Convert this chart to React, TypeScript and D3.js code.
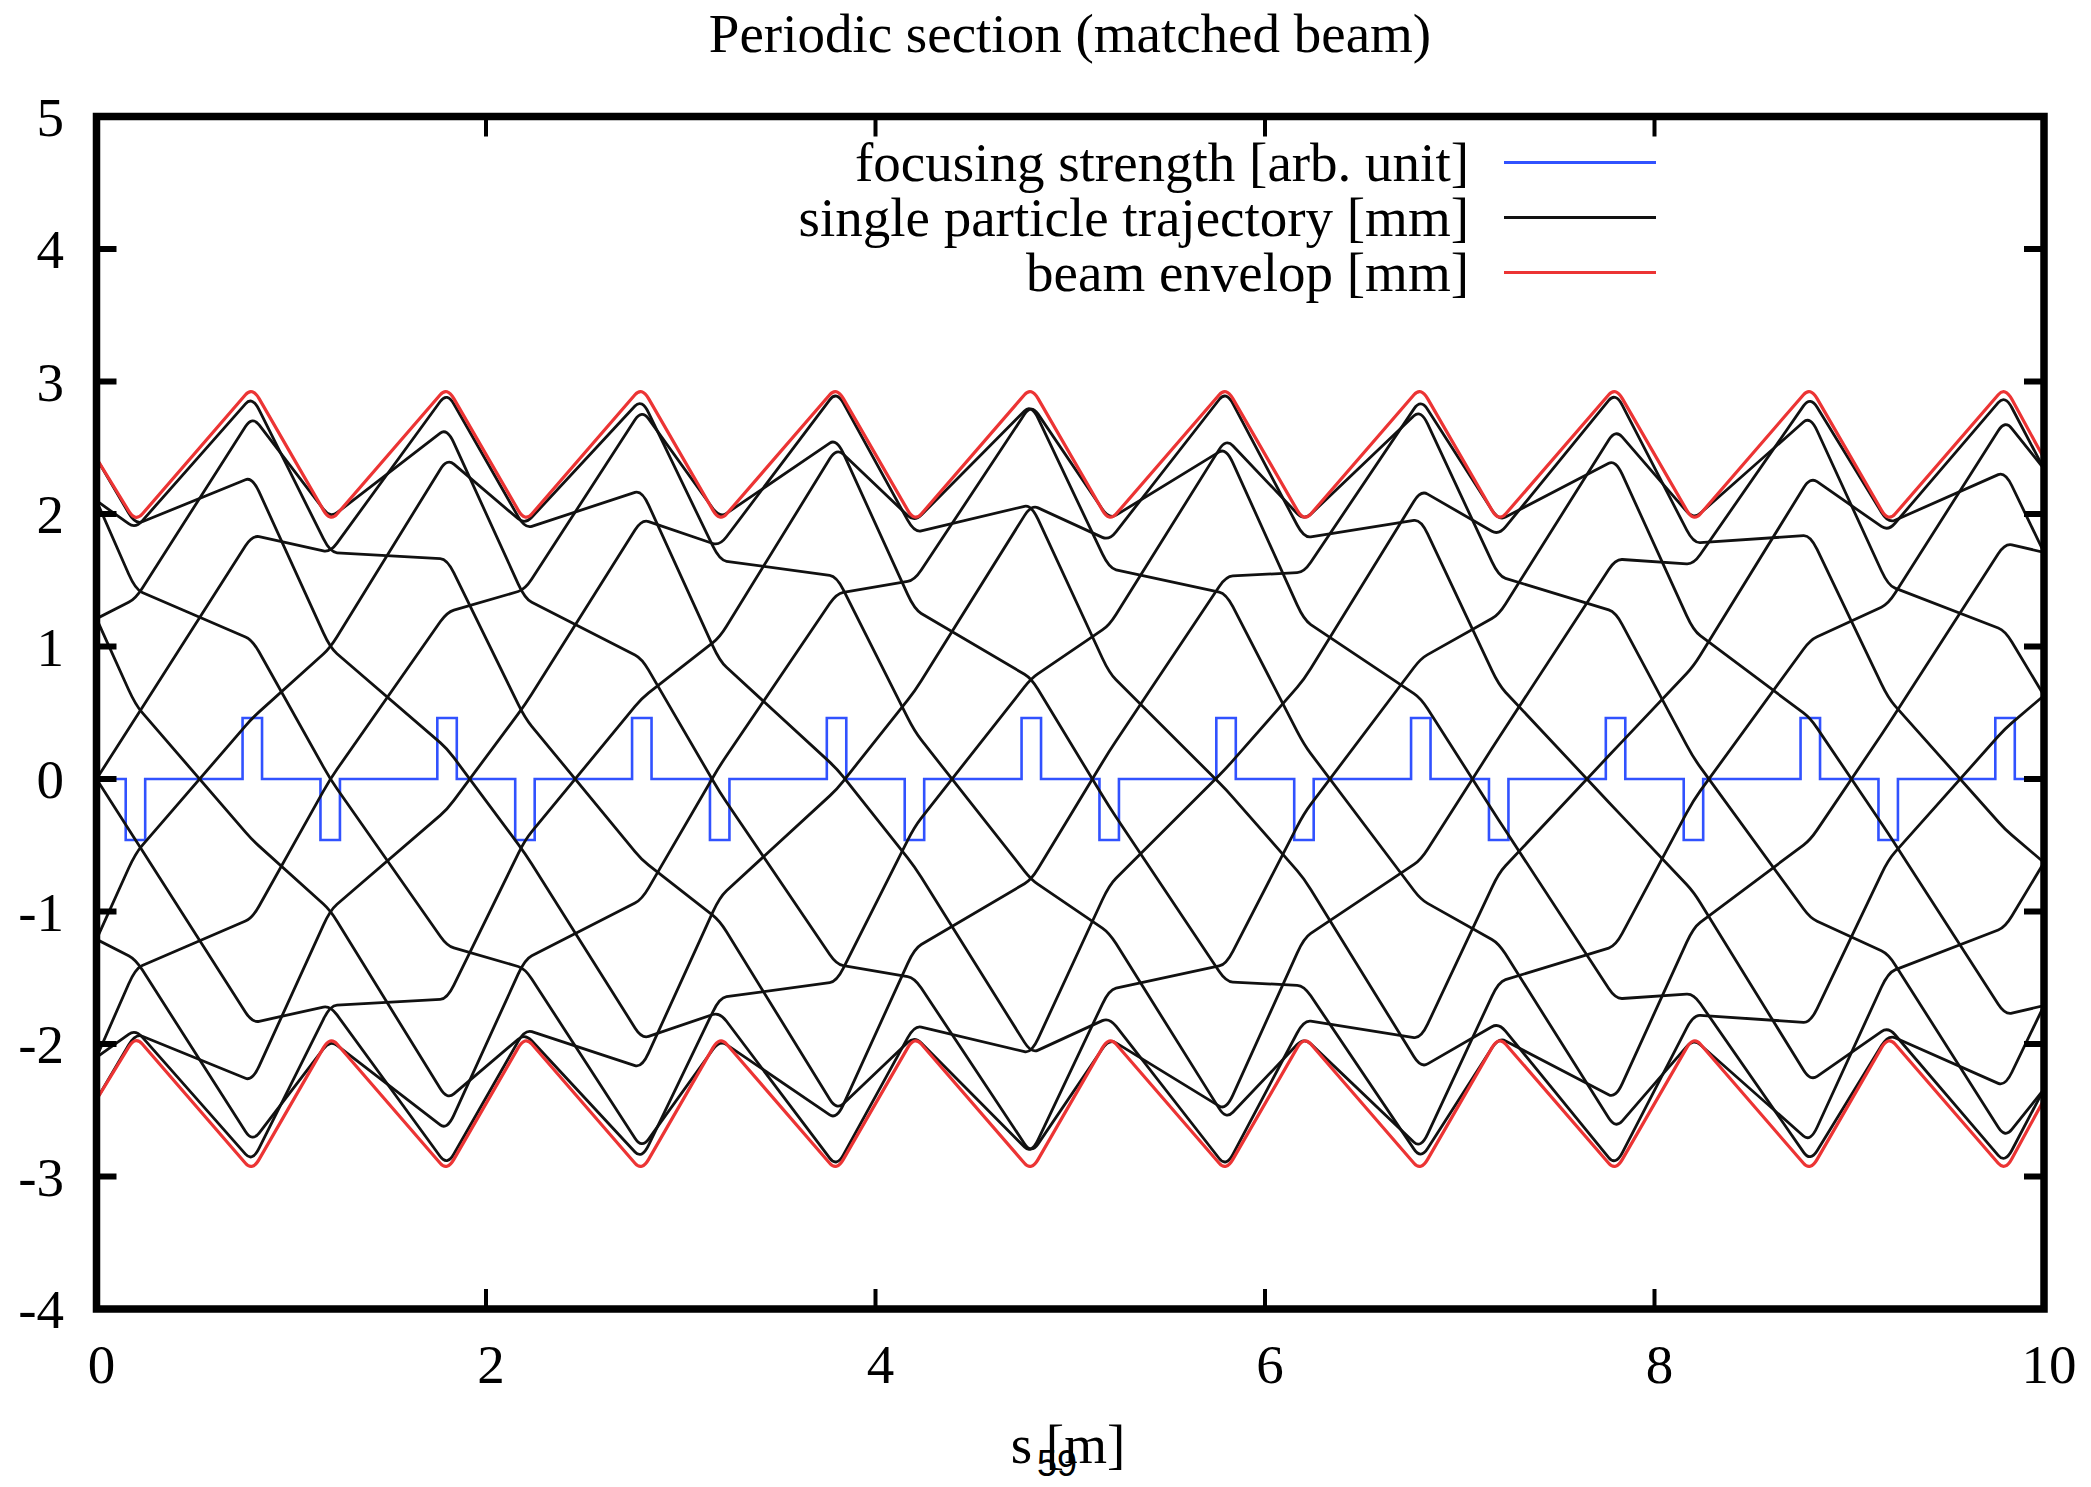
import React from "react";
import * as d3 from "d3";

// ---------- data ----------
const trajS = [0, 0.2, 0.8, 1.2, 1.8, 2.2, 2.8, 3.2, 3.8, 4.2, 4.8, 5.2, 5.8, 6.2, 6.8, 7.2, 7.8, 8.2, 8.8, 9.2, 9.8, 10];

const particle00 = [2.42, 1.92, 2.28, 0.99, 0.23, -0.56, -1.96, -1.76, -2.93, -1.86, -2.07, -0.8, 0.08, 0.75, 2.18, 1.84, 2.92, 1.78, 1.84, 0.61, -0.38, -0.63];
const particle01 = [2.1, 1.43, 1.05, 0.0, -1.26, -1.43, -2.79, -1.97, -2.57, -1.28, -0.76, 0.21, 1.53, 1.56, 2.87, 1.95, 2.41, 1.12, 0.46, -0.41, -1.78, -1.71];
const particle02 = [1.21, 0.56, -0.46, -0.99, -2.42, -1.92, -2.87, -1.65, -1.53, -0.36, 0.76, 1.16, 2.57, 1.95, 2.79, 1.53, 1.26, 0.16, -1.05, -1.32, -2.71, -2.34];
const particle03 = [0.0, -0.46, -1.84, -1.71, -2.92, -1.89, -2.18, -0.89, -0.08, 0.66, 2.07, 1.8, 2.93, 1.82, 1.96, 0.71, -0.23, -0.85, -2.28, -1.87, -2.9, -2.34];
const particle04 = [-1.21, -1.36, -2.74, -1.97, -2.65, -1.36, -0.91, 0.1, 1.4, 1.5, 2.83, 1.96, 2.5, 1.2, 0.61, -0.31, -1.66, -1.62, -2.89, -1.93, -2.32, -1.71];
const particle05 = [-2.1, -1.89, -2.89, -1.71, -1.66, -0.46, 0.61, 1.07, 2.5, 1.94, 2.83, 1.59, 1.4, 0.26, -0.91, -1.24, -2.64, -1.96, -2.74, -1.46, -1.12, -0.63];
const particle06 = [-2.42, -1.92, -2.28, -0.99, -0.23, 0.56, 1.96, 1.76, 2.93, 1.86, 2.07, 0.8, -0.08, -0.75, -2.18, -1.84, -2.92, -1.78, -1.84, -0.61, 0.38, 0.63];
const particle07 = [-2.1, -1.43, -1.05, 0.0, 1.26, 1.43, 2.79, 1.97, 2.57, 1.28, 0.76, -0.21, -1.53, -1.56, -2.87, -1.95, -2.41, -1.12, -0.46, 0.41, 1.78, 1.71];
const particle08 = [-1.21, -0.56, 0.46, 0.99, 2.42, 1.92, 2.87, 1.65, 1.53, 0.36, -0.76, -1.16, -2.57, -1.95, -2.79, -1.53, -1.26, -0.16, 1.05, 1.32, 2.71, 2.34];
const particle09 = [0.0, 0.46, 1.84, 1.71, 2.92, 1.89, 2.18, 0.89, 0.08, -0.66, -2.07, -1.8, -2.93, -1.82, -1.96, -0.71, 0.23, 0.85, 2.28, 1.87, 2.9, 2.34];
const particle10 = [1.21, 1.36, 2.74, 1.97, 2.65, 1.36, 0.91, -0.1, -1.4, -1.5, -2.83, -1.96, -2.5, -1.2, -0.61, 0.31, 1.66, 1.62, 2.89, 1.93, 2.32, 1.71];
const particle11 = [2.1, 1.89, 2.89, 1.71, 1.66, 0.46, -0.61, -1.07, -2.5, -1.94, -2.83, -1.59, -1.4, -0.26, 0.91, 1.24, 2.64, 1.96, 2.74, 1.46, 1.12, 0.63];

const envUpper = [2.42, 1.94, 2.96, 1.94, 2.96, 1.94, 2.96, 1.94, 2.96, 1.94, 2.96, 1.94, 2.96, 1.94, 2.96, 1.94, 2.96, 1.94, 2.96, 1.94, 2.96, 2.42];
const envLower = [-2.42, -1.94, -2.96, -1.94, -2.96, -1.94, -2.96, -1.94, -2.96, -1.94, -2.96, -1.94, -2.96, -1.94, -2.96, -1.94, -2.96, -1.94, -2.96, -1.94, -2.96, -2.42];

const quadStart = [0.15, 0.75, 1.15, 1.75, 2.15, 2.75, 3.15, 3.75, 4.15, 4.75, 5.15, 5.75, 6.15, 6.75, 7.15, 7.75, 8.15, 8.75, 9.15, 9.75];
const quadEnd = [0.25, 0.85, 1.25, 1.85, 2.25, 2.85, 3.25, 3.85, 4.25, 4.85, 5.25, 5.85, 6.25, 6.85, 7.25, 7.85, 8.25, 8.85, 9.25, 9.85];
const quadK = [-0.46, 0.46, -0.46, 0.46, -0.46, 0.46, -0.46, 0.46, -0.46, 0.46, -0.46, 0.46, -0.46, 0.46, -0.46, 0.46, -0.46, 0.46, -0.46, 0.46];

const xTicks = [0, 2, 4, 6, 8, 10];
const yTicks = [-4, -3, -2, -1, 0, 1, 2, 3, 4, 5];
const legendLabels = ["focusing strength [arb. unit]", "single particle trajectory [mm]", "beam envelop [mm]"];
const titleText = "Periodic section (matched beam)";
const xLabel = "s [m]";
const pageNumber = "59";

// ---------- style ----------
const W = 2091;
const H = 1487;
const X0 = 96.5;
const X1 = 2044;
const YT = 116.5;
const YB = 1309;
const BLUE = "#3152ff";
const RED = "#ec3434";
const BLACK = "#111111";
const FONT = "'Liberation Serif', 'Times New Roman', serif";

function roundedPath(pts: [number, number][], r: number): string {
  const p = d3.path();
  p.moveTo(pts[0][0], pts[0][1]);
  for (let i = 1; i < pts.length - 1; i++) {
    const [ax, ay] = pts[i - 1];
    const [bx, by] = pts[i];
    const [cx, cy] = pts[i + 1];
    const t1 = Math.min(r / Math.max(bx - ax, 1e-6), 0.5);
    const t2 = Math.min(r / Math.max(cx - bx, 1e-6), 0.5);
    p.lineTo(bx - (bx - ax) * t1, by - (by - ay) * t1);
    p.quadraticCurveTo(bx, by, bx + (cx - bx) * t2, by + (cy - by) * t2);
  }
  const last = pts[pts.length - 1];
  p.lineTo(last[0], last[1]);
  return p.toString();
}

export default function App() {
  const x = d3.scaleLinear().domain([0, 10]).range([X0, X1]);
  const y = d3.scaleLinear().domain([-4, 5]).range([YB, YT]);
  const r = x(0.035) - x(0);

  const particles = [
    particle00, particle01, particle02, particle03, particle04, particle05,
    particle06, particle07, particle08, particle09, particle10, particle11,
  ];
  const toPts = (vals: number[]) => trajS.map((s, i) => [x(s), y(vals[i])] as [number, number]);

  const bluePts: [number, number][] = [[0, 0]];
  quadStart.forEach((s0, i) => {
    bluePts.push([s0, 0], [s0, quadK[i]], [quadEnd[i], quadK[i]], [quadEnd[i], 0]);
  });
  bluePts.push([10, 0]);
  const blueLine = d3.line<[number, number]>().x((d) => x(d[0])).y((d) => y(d[1]))(bluePts) || "";

  const legendY = [162.5, 217.5, 272.5];
  const legendColors = [BLUE, BLACK, RED];

  return (
    <svg
      width={W}
      height={H}
      viewBox={`0 0 ${W} ${H}`}
      style={{ position: "absolute", left: 0, top: 0, background: "#fff" }}
    >
      <rect x={0} y={0} width={W} height={H} fill="#fff" />
      <defs>
        <clipPath id="plotClip">
          <rect x={X0} y={YT} width={X1 - X0} height={YB - YT} />
        </clipPath>
      </defs>

      {/* title */}
      <text x={1070} y={52} textAnchor="middle" fontFamily={FONT} fontSize={55} fill="#000">
        {titleText}
      </text>

      {/* plot data */}
      <g clipPath="url(#plotClip)" fill="none" strokeLinejoin="round" strokeLinecap="round">
        <path d={blueLine} stroke={BLUE} strokeWidth={2.6} strokeLinejoin="miter" strokeLinecap="butt" />
        {particles.map((vals, i) => (
          <path key={i} d={roundedPath(toPts(vals), r)} stroke={BLACK} strokeWidth={2.8} />
        ))}
        <path d={roundedPath(toPts(envUpper), r)} stroke={RED} strokeWidth={3.2} />
        <path d={roundedPath(toPts(envLower), r)} stroke={RED} strokeWidth={3.2} />
      </g>

      {/* ticks */}
      <g stroke="#000">
        {yTicks.map((t) => (
          <g key={"yt" + t}>
            <line x1={X0} x2={X0 + 20} y1={y(t)} y2={y(t)} strokeWidth={6} />
            <line x1={X1} x2={X1 - 20} y1={y(t)} y2={y(t)} strokeWidth={6} />
          </g>
        ))}
        {xTicks.map((t) => (
          <g key={"xt" + t}>
            <line x1={x(t)} x2={x(t)} y1={YB} y2={YB - 20} strokeWidth={4} />
            <line x1={x(t)} x2={x(t)} y1={YT} y2={YT + 20} strokeWidth={4} />
          </g>
        ))}
      </g>

      {/* border */}
      <rect x={X0} y={YT} width={X1 - X0} height={YB - YT} fill="none" stroke="#000" strokeWidth={7.5} />

      {/* tick labels */}
      <g fontFamily={FONT} fontSize={55} fill="#000">
        {yTicks.map((t) => (
          <text key={"yl" + t} x={64} y={y(t) + 19} textAnchor="end">
            {String(t)}
          </text>
        ))}
        {xTicks.map((t) => (
          <text key={"xl" + t} x={x(t) + 5} y={1383} textAnchor="middle">
            {String(t)}
          </text>
        ))}
      </g>

      {/* legend */}
      <g fontFamily={FONT} fontSize={55} fill="#000">
        {legendLabels.map((lab, i) => (
          <g key={"lg" + i}>
            <text x={1469} y={legendY[i] + 18} textAnchor="end">
              {lab}
            </text>
            <line x1={1504} x2={1656} y1={legendY[i]} y2={legendY[i]} stroke={legendColors[i]} strokeWidth={i === 2 ? 3.2 : 2.8} />
          </g>
        ))}
      </g>

      {/* x label (the page number "59" overlaps it in the reference) */}
      <text x={1068} y={1463} textAnchor="middle" fontFamily={FONT} fontSize={55} fill="#000">
        {xLabel}
      </text>
      <text x={1057} y={1476} textAnchor="middle" fontFamily="'Liberation Sans', 'DejaVu Sans', sans-serif" fontSize={36} fill="#000">
        {pageNumber}
      </text>
    </svg>
  );
}
